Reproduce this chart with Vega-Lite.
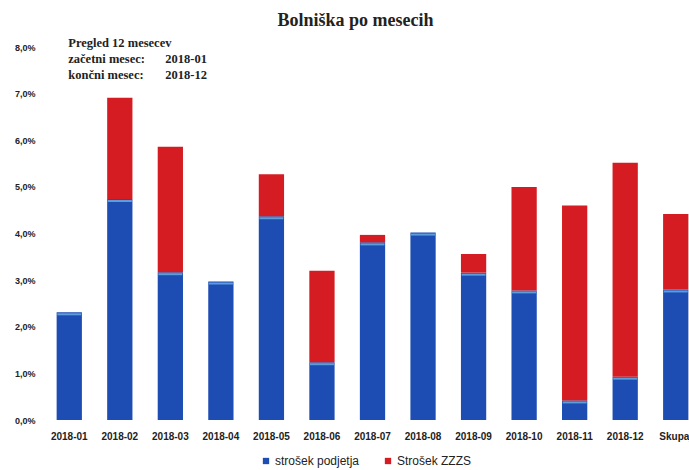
{
  "$schema": "https://vega.github.io/schema/vega-lite/v6.json",
  "autosize": {"type": "none"},
  "width": 657,
  "height": 373,
  "padding": {"left": 44, "top": 47, "right": 0, "bottom": 50},
  "background": "white",
  "title": {
    "text": "Bolniška po mesecih",
    "font": "Liberation Serif",
    "fontSize": 18,
    "fontWeight": "bold",
    "color": "#222222",
    "dx": -17,
    "offset": 7
  },
  "config": {
    "view": {"stroke": null},
    "axis": {"grid": false, "domain": false, "ticks": false}
  },
  "data": {
    "values": [
      {"mesec": "2018-01", "vrsta": "strošek podjetja", "delez": 0.0231},
      {"mesec": "2018-02", "vrsta": "strošek podjetja", "delez": 0.0474},
      {"mesec": "2018-03", "vrsta": "strošek podjetja", "delez": 0.0317},
      {"mesec": "2018-04", "vrsta": "strošek podjetja", "delez": 0.0297},
      {"mesec": "2018-05", "vrsta": "strošek podjetja", "delez": 0.0437},
      {"mesec": "2018-06", "vrsta": "strošek podjetja", "delez": 0.0124},
      {"mesec": "2018-07", "vrsta": "strošek podjetja", "delez": 0.0381},
      {"mesec": "2018-08", "vrsta": "strošek podjetja", "delez": 0.0402},
      {"mesec": "2018-09", "vrsta": "strošek podjetja", "delez": 0.0316},
      {"mesec": "2018-10", "vrsta": "strošek podjetja", "delez": 0.0278},
      {"mesec": "2018-11", "vrsta": "strošek podjetja", "delez": 0.0042},
      {"mesec": "2018-12", "vrsta": "strošek podjetja", "delez": 0.0093},
      {"mesec": "Skupaj", "vrsta": "strošek podjetja", "delez": 0.0280},
      {"mesec": "2018-01", "vrsta": "Strošek ZZZS", "delez": 0.0},
      {"mesec": "2018-02", "vrsta": "Strošek ZZZS", "delez": 0.0217},
      {"mesec": "2018-03", "vrsta": "Strošek ZZZS", "delez": 0.0269},
      {"mesec": "2018-04", "vrsta": "Strošek ZZZS", "delez": 0.0},
      {"mesec": "2018-05", "vrsta": "Strošek ZZZS", "delez": 0.0090},
      {"mesec": "2018-06", "vrsta": "Strošek ZZZS", "delez": 0.0196},
      {"mesec": "2018-07", "vrsta": "Strošek ZZZS", "delez": 0.0016},
      {"mesec": "2018-08", "vrsta": "Strošek ZZZS", "delez": 0.0},
      {"mesec": "2018-09", "vrsta": "Strošek ZZZS", "delez": 0.0040},
      {"mesec": "2018-10", "vrsta": "Strošek ZZZS", "delez": 0.0222},
      {"mesec": "2018-11", "vrsta": "Strošek ZZZS", "delez": 0.0418},
      {"mesec": "2018-12", "vrsta": "Strošek ZZZS", "delez": 0.0459},
      {"mesec": "Skupaj", "vrsta": "Strošek ZZZS", "delez": 0.0162}
    ]
  },
  "layer": [
    {
      "mark": {"type": "bar"},
      "encoding": {
        "x": {
          "field": "mesec",
          "type": "nominal",
          "scale": {"paddingInner": 0.5, "paddingOuter": 0.25},
          "axis": {
            "title": null,
            "labelAngle": 0,
            "labelFont": "Liberation Sans",
            "labelFontSize": 10,
            "labelFontWeight": "bold",
            "labelColor": "#222222",
            "labelPadding": 11
          }
        },
        "y": {
          "field": "delez",
          "type": "quantitative",
          "stack": "zero",
          "scale": {"domain": [0, 0.08], "nice": false},
          "axis": {
            "title": null,
            "values": [0, 0.01, 0.02, 0.03, 0.04, 0.05, 0.06, 0.07, 0.08],
            "labelExpr": "replace(format(datum.value, '.1%'), '.', ',')",
            "labelFont": "Liberation Sans",
            "labelFontSize": 9,
            "labelFontWeight": "bold",
            "labelColor": "#222222",
            "labelPadding": 9
          }
        },
        "color": {
          "field": "vrsta",
          "type": "nominal",
          "scale": {"domain": ["strošek podjetja", "Strošek ZZZS"], "range": ["#1d4cb3", "#d41c22"]},
          "legend": {
            "title": null,
            "orient": "none",
            "legendX": 216,
            "legendY": 408,
            "direction": "horizontal",
            "symbolType": "square",
            "symbolSize": 40,
            "symbolStrokeWidth": 0,
            "labelFont": "Liberation Sans",
            "labelFontSize": 12,
            "labelColor": "#222222",
            "labelOffset": 3,
            "columnPadding": 22
          }
        },
        "order": {"field": "vrsta", "sort": "descending"}
      }
    },
    {
      "transform": [{"filter": "datum.vrsta == 'strošek podjetja'"}],
      "mark": {"type": "tick", "color": "#78c0ee", "thickness": 2, "size": 24, "yOffset": 2},
      "encoding": {
        "x": {"field": "mesec", "type": "nominal"},
        "y": {"field": "delez", "type": "quantitative"}
      }
    },
    {
      "data": {"values": [{}]},
      "mark": {
        "type": "text",
        "text": ["Pregled 12 mesecev", "začetni mesec:", "končni mesec:"],
        "align": "left",
        "baseline": "top",
        "font": "Liberation Serif",
        "fontSize": 12.5,
        "fontWeight": "bold",
        "lineHeight": 16,
        "color": "#222222",
        "dx": -1
      },
      "encoding": {"x": {"datum": "2018-01"}, "y": {"datum": 0.0822}}
    },
    {
      "data": {"values": [{}]},
      "mark": {
        "type": "text",
        "text": ["", "2018-01", "2018-12"],
        "align": "left",
        "baseline": "top",
        "font": "Liberation Serif",
        "fontSize": 12.5,
        "fontWeight": "bold",
        "lineHeight": 16,
        "color": "#222222",
        "dx": 96
      },
      "encoding": {"x": {"datum": "2018-01"}, "y": {"datum": 0.0822}}
    }
  ]
}
